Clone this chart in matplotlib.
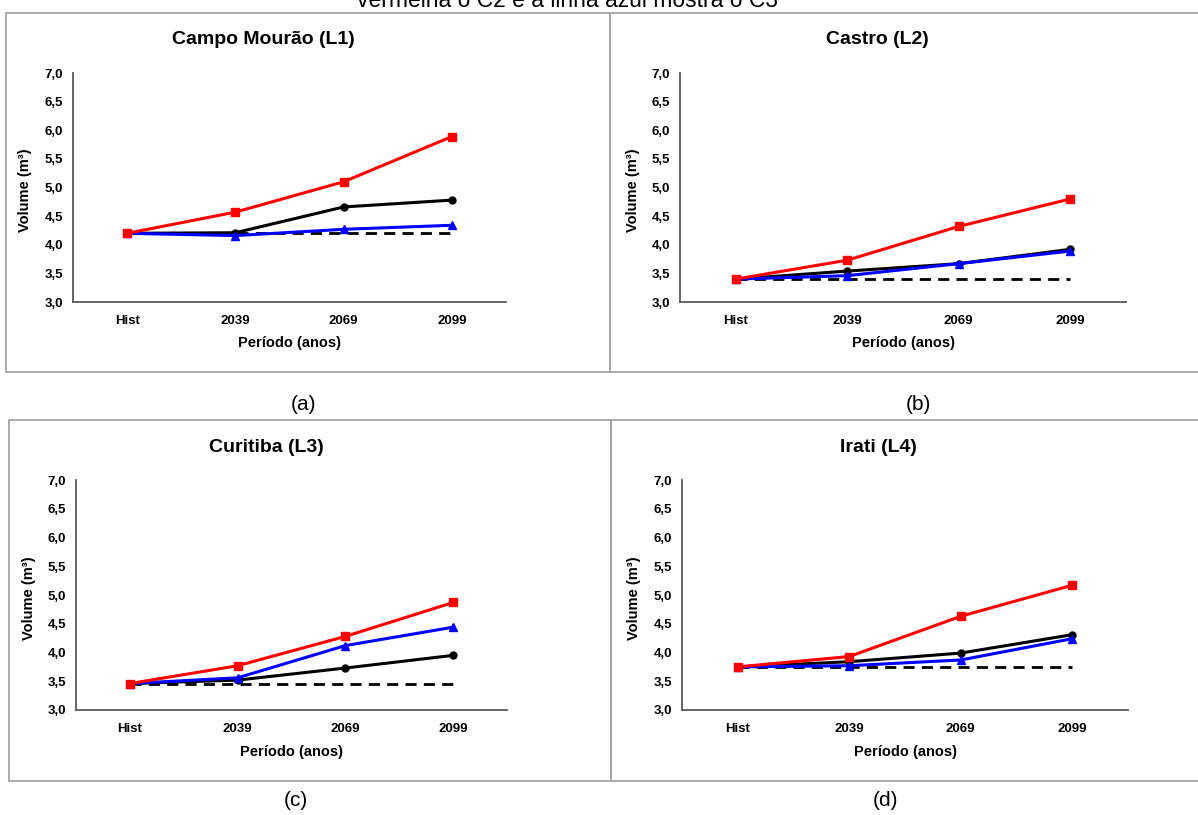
import numpy as np
import matplotlib
matplotlib.use('Agg')
import matplotlib.pyplot as plt
from matplotlib.patches import Rectangle

# data
periods = ['Hist', '2039', '2069', '2099']
titles = ['Campo Mourão (L1)', 'Castro (L2)', 'Curitiba (L3)', 'Irati (L4)']
labels = ['(a)', '(b)', '(c)', '(d)']

c1_black = [[4.20, 4.21, 4.66, 4.78],
            [3.40, 3.54, 3.67, 3.92],
            [3.46, 3.52, 3.73, 3.95],
            [3.75, 3.84, 3.99, 4.31]]
c2_red = [[4.20, 4.57, 5.10, 5.89],
          [3.40, 3.73, 4.32, 4.80],
          [3.46, 3.77, 4.28, 4.87],
          [3.75, 3.93, 4.63, 5.17]]
c3_blue = [[4.20, 4.16, 4.27, 4.34],
           [3.40, 3.46, 3.67, 3.89],
           [3.46, 3.56, 4.12, 4.44],
           [3.75, 3.77, 3.87, 4.24]]
hist_ref = [4.20, 3.40, 3.46, 3.75]

yticks = np.arange(3.0, 7.01, 0.5)
ytick_labels = ['%.1f' % v for v in yticks]
ytick_labels = [s.replace('.', ',') for s in ytick_labels]

W, H = 1198, 815
plt.rcParams['font.family'] = ['Liberation Sans', 'DejaVu Sans']
fig = plt.figure(figsize=(W / 100, H / 100), dpi=100)


def fx(px):
    return px / W


def fy(py):
    return 1 - py / H


# pixel layout per panel: axes box, title pos, ylabel x, xlabel pos, panel box, panel letter pos
axes_px = [(73, 506, 73, 302), (680, 1126, 73, 302),
           (76, 507, 480, 710), (682, 1128, 480, 710)]
title_px = [(263, 39), (877, 39), (266, 447), (878, 447)]
ylab_px = [(25, 190), (633, 190), (29, 598), (634, 598)]
xlab_px = [(290, 343), (903, 343), (291, 752), (905, 752)]
box_px = [(6, 610, 13, 372), (610, 1199, 13, 372),
          (9, 611, 420, 781), (611, 1199, 420, 781)]
letter_px = [(303, 405), (918, 405), (296, 800), (885, 800)]

for i in range(4):
    x0, x1, y0, y1 = box_px[i]
    fig.patches.append(Rectangle((fx(x0), fy(y1)), fx(x1) - fx(x0), fy(y0) - fy(y1),
                                 transform=fig.transFigure, fill=False,
                                 edgecolor='#a6a6a6', linewidth=1.3))

    l, r, t, b = axes_px[i]
    ax = fig.add_axes([fx(l), fy(b), fx(r) - fx(l), fy(t) - fy(b)])
    x = np.arange(len(periods))

    ax.plot(x, [hist_ref[i]] * len(x), color='black', linestyle=(0, (4, 2.6)), linewidth=2)
    ax.plot(x, c1_black[i], color='black', linewidth=2.2, marker='o', markersize=5)
    ax.plot(x, c3_blue[i], color='#0000ff', linewidth=2.2, marker='^', markersize=5.5)
    ax.plot(x, c2_red[i], color='#ff0000', linewidth=2.2, marker='s', markersize=6)

    ax.set_xlim(-0.5, 3.5)
    ax.set_ylim(3.0, 7.0)
    ax.set_xticks(x)
    ax.set_xticklabels(periods, fontsize=9.5, fontweight='bold')
    ax.set_yticks(yticks)
    ax.set_yticklabels(ytick_labels, fontsize=9.5, fontweight='bold')
    ax.tick_params(axis='both', length=0)
    ax.tick_params(axis='x', pad=9)
    ax.tick_params(axis='y', pad=7)
    for s in ['top', 'right']:
        ax.spines[s].set_visible(False)
    for s in ['left', 'bottom']:
        ax.spines[s].set_color('#595959')
        ax.spines[s].set_linewidth(1.3)

    fig.text(fx(title_px[i][0]), fy(title_px[i][1]), titles[i], ha='center', va='center',
             fontsize=14, fontweight='bold')
    fig.text(fx(ylab_px[i][0]), fy(ylab_px[i][1]), 'Volume (m³)', ha='center', va='center',
             rotation=90, fontsize=10.5, fontweight='bold')
    fig.text(fx(xlab_px[i][0]), fy(xlab_px[i][1]), 'Período (anos)', ha='center', va='center',
             fontsize=10.5, fontweight='bold')
    fig.text(fx(letter_px[i][0]), fy(letter_px[i][1]), labels[i], ha='center', va='center',
             fontsize=15)

# caption line cut off at the top of the image
fig.text(fx(357), fy(7), 'vermelha o C2 e a linha azul mostra o C3', ha='left',
         va='baseline', fontsize=16.5)

fig.savefig('out.png', dpi=100)
